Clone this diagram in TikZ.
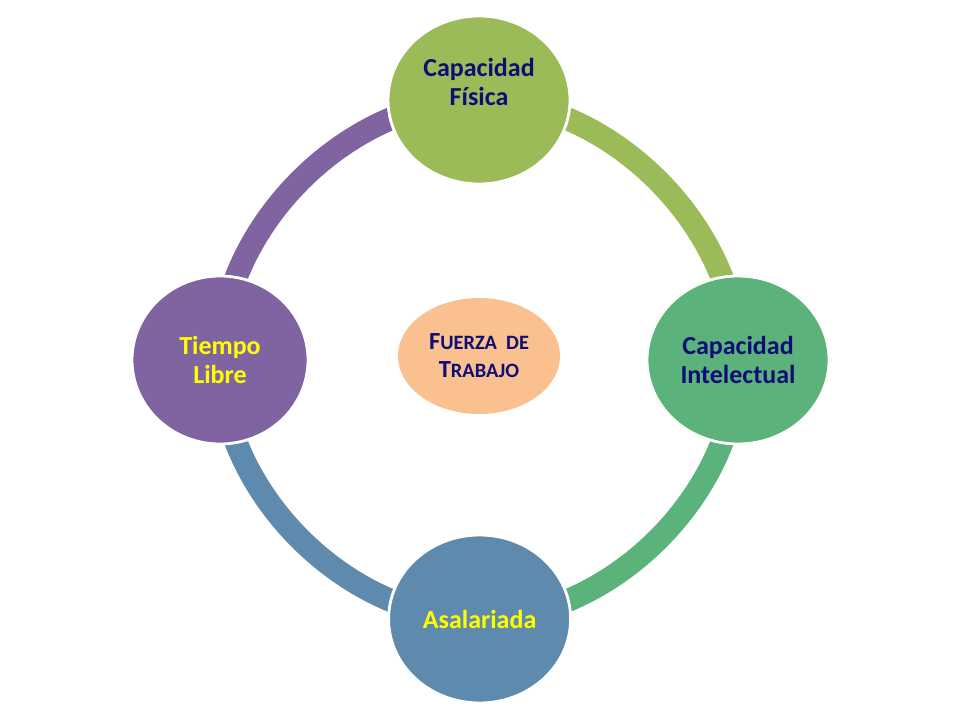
\documentclass[tikz,border=0pt]{standalone}
\usepackage{fontspec}
\setmainfont{Carlito}
\usetikzlibrary{
    shapes.geometric,
    positioning,
    backgrounds
}
\definecolor{fisicaverde}{HTML}{9BBB59}
\definecolor{intelverde}{HTML}{5BB27B}
\definecolor{salarioazul}{HTML}{5E8BAD}
\definecolor{libremorado}{HTML}{8064A2}
\definecolor{fuerzanaranja}{HTML}{FAC090}
\definecolor{textoazul}{HTML}{0D0D75}
\definecolor{textoamarillo}{HTML}{FFFF00}
\newcommand{\versalita}[1]{{\fontsize{14.5}{20}\selectfont #1}}

\begin{document}
\begin{tikzpicture}[
    etapa/.style={ellipse, draw=white, line width=2pt, minimum width=4.55cm,
        minimum height=4.2cm, inner sep=0pt, align=center,
        font=\fontsize{18.5}{20.5}\selectfont\bfseries},
    etiqueta/.style={align=center, inner sep=0pt,
        font=\fontsize{18.5}{20.5}\selectfont\bfseries},
    anillo/.style={line width=0.575cm, bend left=45, looseness=0.92}
]
                                \useasboundingbox (0, 0) rectangle (24, 18);
                                \coordinate (centro) at (11.975, 9);
                                \node[etapa, fill=fisicaverde] (fisica) at (11.975, 15.5) {};
                                \node[etiqueta, text=textoazul] (fisicatxt) at ([yshift=0.45cm]fisica.center) {Capacidad\\Física};
                                \node[etapa, fill=intelverde, text=textoazul] (intelectual) at (18.45, 9) {Capacidad\\Intelectual};
                                \node[etapa, fill=salarioazul, text=textoamarillo] (asalariada) at (11.99, 2.525) {Asalariada};
                                \node[etapa, fill=libremorado, text=textoamarillo, minimum width=4.4cm] (libre) at (5.5, 9) {Tiempo\\Libre};
                                \node[ellipse, fill=fuerzanaranja, text=textoazul, minimum width=4.05cm, minimum height=2.9cm,
                                    inner sep=0pt, align=center, font=\fontsize{17.5}{20}\selectfont\bfseries]
                                    (fuerza) at ([yshift=0.1cm]centro) {F\versalita{UERZA\ \ DE}\\T\versalita{RABAJO}};
                                \begin{scope}[on background layer]
                                \draw[anillo, fisicaverde] (fisica.center) to (intelectual.center);
                                \draw[anillo, intelverde] (intelectual.center) to (asalariada.center);
                                \draw[anillo, salarioazul] (asalariada.center) to (libre.center);
                                \draw[anillo, libremorado] (libre.center) to (fisica.center);
                                \end{scope}
                            \end{tikzpicture}
\end{document}
